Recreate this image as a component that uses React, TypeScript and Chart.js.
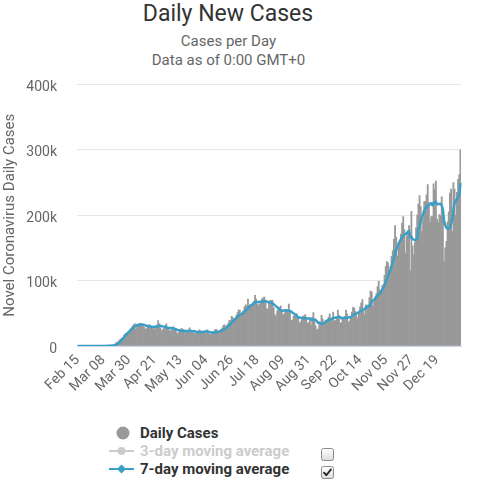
import React, { useEffect, useRef } from "react";
import { Chart, registerables } from "chart.js";

Chart.register(...registerables);

const FONT = "Roboto, 'Noto Sans', 'DejaVu Sans', sans-serif";

// Daily new cases, in thousands (Feb 15 2020 .. Jan 08 2021)
const CASES_FEB = [0, 0, 0, 0, 0, 0, 0, 0, 0, 0, 0, 0, 0, 0, 0];
const CASES_MAR = [0, 0, 0, 0, 0.1, 0.1, 0.1, 0.1, 0.2, 0.3, 0.4, 0.5, 0.6, 0.8, 1.1, 1.1, 1.8, 2.9, 4.8, 5.6, 7.1, 9.3, 11.0, 10.9, 13.4, 17.2, 18.7, 19.5, 19.9, 20.2, 24.7];
const CASES_APR = [26.5, 29.9, 32.3, 34.2, 25.3, 30.6, 30.6, 32.9, 34.5, 33.8, 29.9, 28.9, 25.3, 26.6, 29.9, 32.2, 32.1, 29.1, 26.7, 28.1, 26.0, 30.0, 31.9, 38.8, 33.8, 27.6, 23.2, 25.0, 27.3, 30.1];
const CASES_MAY = [34.0, 29.1, 25.5, 22.3, 24.3, 24.9, 29.2, 27.6, 25.5, 20.3, 18.2, 22.0, 21.1, 27.2, 25.5, 25.0, 18.9, 21.8, 21.0, 22.9, 27.8, 24.4, 21.8, 19.6, 20.0, 18.4, 19.5, 22.4, 24.8, 23.8, 20.3];
const CASES_JUN = [20.7, 21.7, 20.4, 22.1, 24.7, 22.8, 18.1, 17.3, 19.1, 21.0, 22.8, 25.3, 25.4, 19.9, 20.2, 23.6, 25.6, 27.8, 31.5, 32.4, 27.9, 31.5, 34.3, 38.7, 39.1, 45.3, 43.6, 41.6, 42.5, 47.0];
const CASES_JUL = [51.1, 55.2, 54.4, 45.3, 48.6, 53.9, 60.0, 62.8, 61.1, 71.8, 61.4, 59.7, 62.9, 66.2, 68.2, 77.3, 71.6, 63.7, 61.8, 64.4, 67.1, 72.0, 73.7, 74.8, 68.2, 57.2, 56.1, 65.4, 70.0, 69.3, 69.7];
const CASES_AUG = [58.9, 47.9, 45.9, 53.9, 55.7, 59.0, 61.6, 54.8, 46.8, 49.3, 54.5, 55.9, 52.1, 64.2, 53.2, 39.8, 38.9, 45.2, 46.7, 45.1, 49.0, 44.0, 35.6, 37.1, 39.9, 45.2, 46.2, 48.1, 43.8, 34.4, 36.0];
const CASES_SEP = [42, 32, 44, 51, 42, 31, 24, 26, 34, 36, 47, 41, 34, 36, 39, 39, 44, 49, 43, 37, 52, 39, 39, 45, 55, 46, 35, 36, 43, 41];
const CASES_OCT = [45, 55, 49, 36, 38, 44, 52, 59, 58, 53, 46, 42, 52, 60, 66, 71, 53, 48, 63, 59, 63, 74, 84, 83, 61, 67, 75, 80, 91, 99, 86];
const CASES_NOV = [82, 92, 94, 108, 122, 129, 127, 111, 122, 137, 146, 163, 184, 166, 138, 157, 162, 171, 188, 198, 178, 142, 168, 176, 184, 115, 206, 153, 139, 158];
const CASES_DEC = [181, 200, 217, 230, 213, 175, 194, 221, 221, 231, 247, 219, 190, 198, 198, 248, 239, 252, 194, 189, 201, 199, 228, 197, 130, 150, 160, 190, 205, 234, 240];
const CASES_JAN = [175, 250, 240, 200, 235, 255, 262, 300];

// 7-day moving average, in thousands
const AVG7_FEB = [0, 0, 0, 0, 0, 0, 0, 0, 0, 0, 0, 0, 0, 0, 0];
const AVG7_MAR = [0, 0, 0, 0, 0, 0, 0, 0.1, 0.1, 0.1, 0.2, 0.2, 0.3, 0.4, 0.6, 0.7, 0.9, 1.4, 2.1, 3.0, 4.2, 5.8, 7.6, 9.5, 11.6, 13.8, 16.0, 18.2, 20.0, 21.6, 23.5];
const AVG7_APR = [25.3, 27.0, 28.6, 30.0, 30.9, 31.8, 32.4, 32.8, 33.0, 33.0, 32.5, 32.3, 31.6, 31.0, 30.5, 30.1, 29.8, 29.6, 29.2, 29.4, 29.3, 29.3, 29.2, 30.1, 30.8, 30.9, 30.2, 30.0, 29.7, 29.4];
const AVG7_MAY = [28.7, 28.0, 27.7, 27.6, 27.5, 27.2, 27.0, 26.1, 25.6, 24.9, 24.3, 24.0, 23.4, 23.1, 22.8, 22.8, 22.6, 23.1, 22.9, 23.2, 23.3, 23.1, 22.7, 22.8, 22.5, 22.1, 21.6, 20.9, 20.9, 21.2, 21.3];
const AVG7_JUN = [21.4, 21.9, 22.0, 22.0, 22.0, 21.8, 21.5, 21.0, 20.6, 20.7, 20.8, 20.9, 21.3, 21.5, 22.0, 22.6, 23.3, 24.0, 24.9, 25.9, 27.0, 28.6, 30.1, 32.0, 33.6, 35.6, 37.2, 39.2, 40.7, 42.5];
const AVG7_JUL = [44.3, 46.6, 47.9, 48.2, 49.2, 50.8, 52.6, 54.3, 55.2, 57.6, 59.9, 61.5, 62.8, 63.7, 64.5, 66.8, 66.8, 67.1, 67.4, 67.6, 67.7, 68.3, 67.8, 68.2, 68.9, 68.2, 67.0, 66.8, 66.5, 65.9, 65.1];
const AVG7_AUG = [63.8, 62.5, 61.0, 59.4, 57.3, 55.9, 54.7, 54.1, 54.0, 54.4, 54.5, 54.6, 53.6, 53.9, 53.7, 52.7, 51.2, 49.9, 48.6, 47.6, 45.4, 44.1, 43.5, 43.2, 42.5, 42.3, 42.4, 42.3, 42.3, 42.1, 41.9];
const AVG7_SEP = [42.2, 40.4, 40.0, 40.5, 40.2, 39.7, 38.0, 35.7, 36.0, 34.9, 34.3, 34.1, 34.6, 36.3, 38.1, 38.9, 40.0, 40.3, 40.6, 41.0, 43.3, 43.3, 43.3, 43.4, 44.3, 44.7, 44.4, 42.1, 42.7, 43.0];
const AVG7_OCT = [43.0, 43.0, 43.4, 43.6, 43.9, 44.0, 45.6, 47.6, 48.0, 48.6, 50.0, 50.6, 51.7, 52.9, 53.9, 55.7, 55.7, 56.0, 59.0, 60.0, 60.4, 61.6, 63.4, 67.7, 69.6, 70.1, 72.4, 74.9, 77.3, 79.4, 79.9];
const AVG7_NOV = [82.9, 86.4, 89.1, 93.1, 97.6, 101.9, 107.7, 111.9, 116.1, 122.3, 127.7, 133.6, 141.4, 147.0, 150.9, 155.9, 159.4, 163.0, 166.6, 168.6, 170.3, 170.9, 172.4, 174.4, 176.3, 165.9, 167.0, 163.4, 163.0, 161.6];
const AVG7_DEC = [162.3, 164.6, 179.1, 182.6, 191.1, 196.3, 201.4, 207.1, 210.1, 212.1, 214.6, 215.4, 217.6, 218.1, 214.9, 218.7, 219.9, 220.6, 217.0, 216.9, 217.3, 217.4, 214.6, 208.6, 191.1, 184.9, 180.7, 179.1, 180.0, 180.9, 187.0];
const AVG7_JAN = [193.4, 207.7, 219.1, 220.6, 224.9, 227.9, 231.0, 248.9];

const TICK_LABELS = ["Feb 15", "Mar 08", "Mar 30", "Apr 21", "May 13", "Jun 04", "Jun 26", "Jul 18", "Aug 09", "Aug 31", "Sep 22", "Oct 14", "Nov 05", "Nov 27", "Dec 19"];
const Y_TICKS = [0, 100, 200, 300, 400];
const MONTH_NAMES = ["Jan", "Feb", "Mar", "Apr", "May", "Jun", "Jul", "Aug", "Sep", "Oct", "Nov", "Dec"];

const CASES = [
  ...CASES_FEB, ...CASES_MAR, ...CASES_APR, ...CASES_MAY, ...CASES_JUN, ...CASES_JUL,
  ...CASES_AUG, ...CASES_SEP, ...CASES_OCT, ...CASES_NOV, ...CASES_DEC, ...CASES_JAN,
];
const AVG7 = [
  ...AVG7_FEB, ...AVG7_MAR, ...AVG7_APR, ...AVG7_MAY, ...AVG7_JUN, ...AVG7_JUL,
  ...AVG7_AUG, ...AVG7_SEP, ...AVG7_OCT, ...AVG7_NOV, ...AVG7_DEC, ...AVG7_JAN,
];

function buildCategories(count: number): string[] {
  const out: string[] = [];
  const d = new Date(Date.UTC(2020, 1, 15));
  for (let i = 0; i < count; i++) {
    out.push(`${MONTH_NAMES[d.getUTCMonth()]} ${String(d.getUTCDate()).padStart(2, "0")}`);
    d.setUTCDate(d.getUTCDate() + 1);
  }
  return out;
}
const CATEGORIES = buildCategories(CASES.length);

const BAR_COLOR = "#999999";
const LINE_COLOR = "#3a9fc6";

function CheckBox({ checked }: { checked: boolean }) {
  return (
    <svg width="13" height="13" viewBox="0 0 13 13" style={{ display: "block" }}>
      <defs>
        <linearGradient id={checked ? "cbg1" : "cbg0"} x1="0" y1="0" x2="0" y2="1">
          <stop offset="0" stopColor="#ffffff" />
          <stop offset="1" stopColor="#dcdcdc" />
        </linearGradient>
      </defs>
      <rect x="0.5" y="0.5" width="12" height="12" rx="2" ry="2" fill={`url(#${checked ? "cbg1" : "cbg0"})`} stroke="#8a8a8a" strokeWidth="1" />
      {checked && <path d="M3 6.6 L5.3 9.2 L10 3.4" fill="none" stroke="#222" strokeWidth="1.8" strokeLinecap="round" strokeLinejoin="round" />}
    </svg>
  );
}

export default function App() {
  const canvasRef = useRef<HTMLCanvasElement | null>(null);

  useEffect(() => {
    if (!canvasRef.current) return;
    const chart = new Chart(canvasRef.current, {
      type: "bar",
      data: {
        labels: CATEGORIES,
        datasets: [
          {
            type: "line",
            label: "7-day moving average",
            data: AVG7,
            borderColor: LINE_COLOR,
            backgroundColor: LINE_COLOR,
            borderWidth: 2.5,
            pointRadius: 0,
            tension: 0.2,
            order: 0,
          } as any,
          {
            type: "bar",
            label: "Daily Cases",
            data: CASES,
            backgroundColor: BAR_COLOR,
            borderWidth: 0,
            barPercentage: 1,
            categoryPercentage: 1,
            order: 1,
          } as any,
        ],
      },
      options: {
        animation: false,
        responsive: false,
        maintainAspectRatio: false,
        layout: { padding: { top: 1, right: 16, bottom: 0, left: 0 } },
        plugins: {
          legend: { display: false },
          title: { display: false },
          tooltip: { enabled: false },
        },
        scales: {
          x: {
            grid: { display: false, drawTicks: false },
            border: { display: true, color: "#ccd6eb", width: 1 },
            ticks: {
              autoSkip: false,
              maxRotation: 45,
              minRotation: 45,
              color: "#666666",
              font: { family: FONT, size: 14 },
              padding: 6,
              callback: (_v: any, index: number) => {
                const l = CATEGORIES[index];
                return TICK_LABELS.includes(l) ? l : null;
              },
            },
            afterFit: (s: any) => {
              s.height = 64;
            },
          },
          y: {
            min: 0,
            max: 400,
            afterBuildTicks: (s: any) => {
              s.ticks = Y_TICKS.map((v) => ({ value: v }));
            },
            ticks: {
              color: "#666666",
              font: { family: FONT, size: 14 },
              padding: 20,
              labelOffset: 3,
              callback: (v: any) => (Number(v) === 0 ? "0" : `${v}k`),
            },
            grid: { color: "#e6e6e6", drawTicks: false, lineWidth: 1 },
            border: { display: false },
            title: {
              display: true,
              text: "Novel Coronavirus Daily Cases",
              color: "#666666",
              font: { family: FONT, size: 15 },
              padding: { top: 1, bottom: 0 },
            },
            afterFit: (s: any) => {
              s.width = 77;
            },
          },
        },
      } as any,
    });
    return () => chart.destroy();
  }, []);

  const textDark = "#333333";
  return (
    <div style={{ position: "absolute", left: 0, top: 0, width: 477, height: 500, fontFamily: FONT, background: "#ffffff" }}>
      <div style={{ position: "absolute", left: 0, top: 0, width: 456, textAlign: "center", fontSize: 23, lineHeight: "27px", color: "#333333" }}>
        Daily New Cases
      </div>
      <div style={{ position: "absolute", left: 0, top: 32, width: 457, textAlign: "center", fontSize: 15, lineHeight: "19px", color: "#666666" }}>
        <div>Cases per Day</div>
        <div>Data as of 0:00 GMT+0</div>
      </div>
      <canvas ref={canvasRef} width={477} height={354} style={{ position: "absolute", left: 0, top: 56, width: 477, height: 354 }} />

      {/* Legend */}
      <div style={{ position: "absolute", left: 0, top: 424, width: 477, fontSize: 15, fontWeight: 700, lineHeight: "18px" }}>
        <div style={{ position: "absolute", left: 108, top: 0, width: 300, height: 18 }}>
          <svg width="28" height="18" style={{ position: "absolute", left: 0, top: 0 }}>
            <circle cx="15" cy="9" r="6.5" fill={BAR_COLOR} />
          </svg>
          <span style={{ position: "absolute", left: 32, top: 0, color: textDark, whiteSpace: "nowrap" }}>Daily Cases</span>
        </div>
        <div style={{ position: "absolute", left: 108, top: 18, width: 300, height: 18 }}>
          <svg width="28" height="18" style={{ position: "absolute", left: 0, top: 0 }}>
            <line x1="1" y1="9" x2="26" y2="9" stroke="#cccccc" strokeWidth="2" />
            <circle cx="13.5" cy="9" r="4" fill="#cccccc" />
          </svg>
          <span style={{ position: "absolute", left: 32, top: 0, color: "#cccccc", whiteSpace: "nowrap" }}>3-day moving average</span>
        </div>
        <div style={{ position: "absolute", left: 108, top: 36, width: 300, height: 18 }}>
          <svg width="28" height="18" style={{ position: "absolute", left: 0, top: 0 }}>
            <line x1="1" y1="9" x2="26" y2="9" stroke={LINE_COLOR} strokeWidth="2" />
            <path d="M13.5 4.5 L18 9 L13.5 13.5 L9 9 Z" fill={LINE_COLOR} />
          </svg>
          <span style={{ position: "absolute", left: 32, top: 0, color: textDark, whiteSpace: "nowrap" }}>7-day moving average</span>
        </div>
        <div style={{ position: "absolute", left: 321, top: 24 }}>
          <CheckBox checked={false} />
        </div>
        <div style={{ position: "absolute", left: 321, top: 42 }}>
          <CheckBox checked={true} />
        </div>
      </div>
    </div>
  );
}
